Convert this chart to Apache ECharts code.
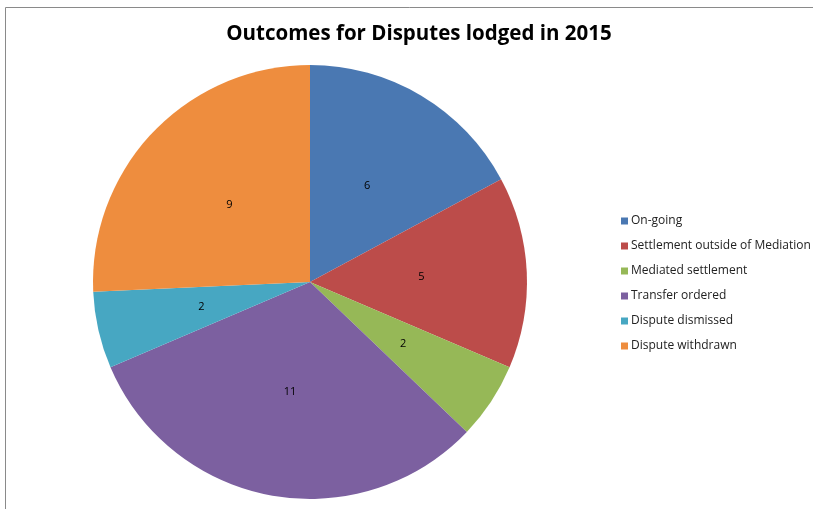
<!DOCTYPE html>
<html>
<head>
<meta charset="utf-8">
<script src="https://cdn.jsdelivr.net/npm/echarts@6/dist/echarts.min.js"></script>
<style>
  html, body { margin: 0; padding: 0; background: #fff; }
  #chart { width: 813px; height: 509px; }
</style>
</head>
<body>
<div id="chart"></div>
<script>
// outcomes, in the order Excel draws them (clockwise from 12 o'clock)
const categories = ['On-going', 'Settlement outside of Mediation', 'Mediated settlement',
  'Transfer ordered', 'Dispute dismissed', 'Dispute withdrawn'];
const counts = [6, 5, 2, 11, 2, 9];
const colours = ['#4A78B2', '#BC4C4A', '#96B857', '#7C60A0', '#47A7C2', '#EE8D3E'];

const chart = echarts.init(document.getElementById('chart'));

chart.setOption({
  animation: false,
  backgroundColor: '#fff',
  color: colours,
  title: {
    text: 'Outcomes for Disputes lodged in 2015',
    left: 414,
    top: 19,
    textAlign: 'center',
    textStyle: { fontFamily: 'Open Sans', fontWeight: 'bold', fontSize: 20.5, color: '#000' }
  },
  legend: {
    orient: 'vertical',
    left: 616,
    top: 209,
    icon: 'rect',
    itemWidth: 7,
    itemHeight: 7,
    itemGap: 11,
    textStyle: { fontFamily: 'Open Sans', fontSize: 12, color: '#222', lineHeight: 14, padding: [0, 0, 0, -2] },
    data: categories
  },
  graphic: [{
    type: 'rect',
    shape: { x: 5.5, y: 7.5, width: 900, height: 600 },
    style: { fill: 'none', stroke: '#8a8a8a', lineWidth: 1 },
    silent: true
  }],
  series: [{
    type: 'pie',
    center: [310, 282],
    radius: [0, 217],
    startAngle: 90,
    clockwise: true,
    label: {
      position: 'inner',
      formatter: '{c}',
      fontFamily: 'Open Sans',
      fontSize: 11,
      color: '#000'
    },
    labelLine: { show: false },
    itemStyle: { borderWidth: 0 },
    emphasis: { disabled: true },
    data: categories.map((name, i) => ({ name: name, value: counts[i] }))
  }]
});
</script>
</body>
</html>
